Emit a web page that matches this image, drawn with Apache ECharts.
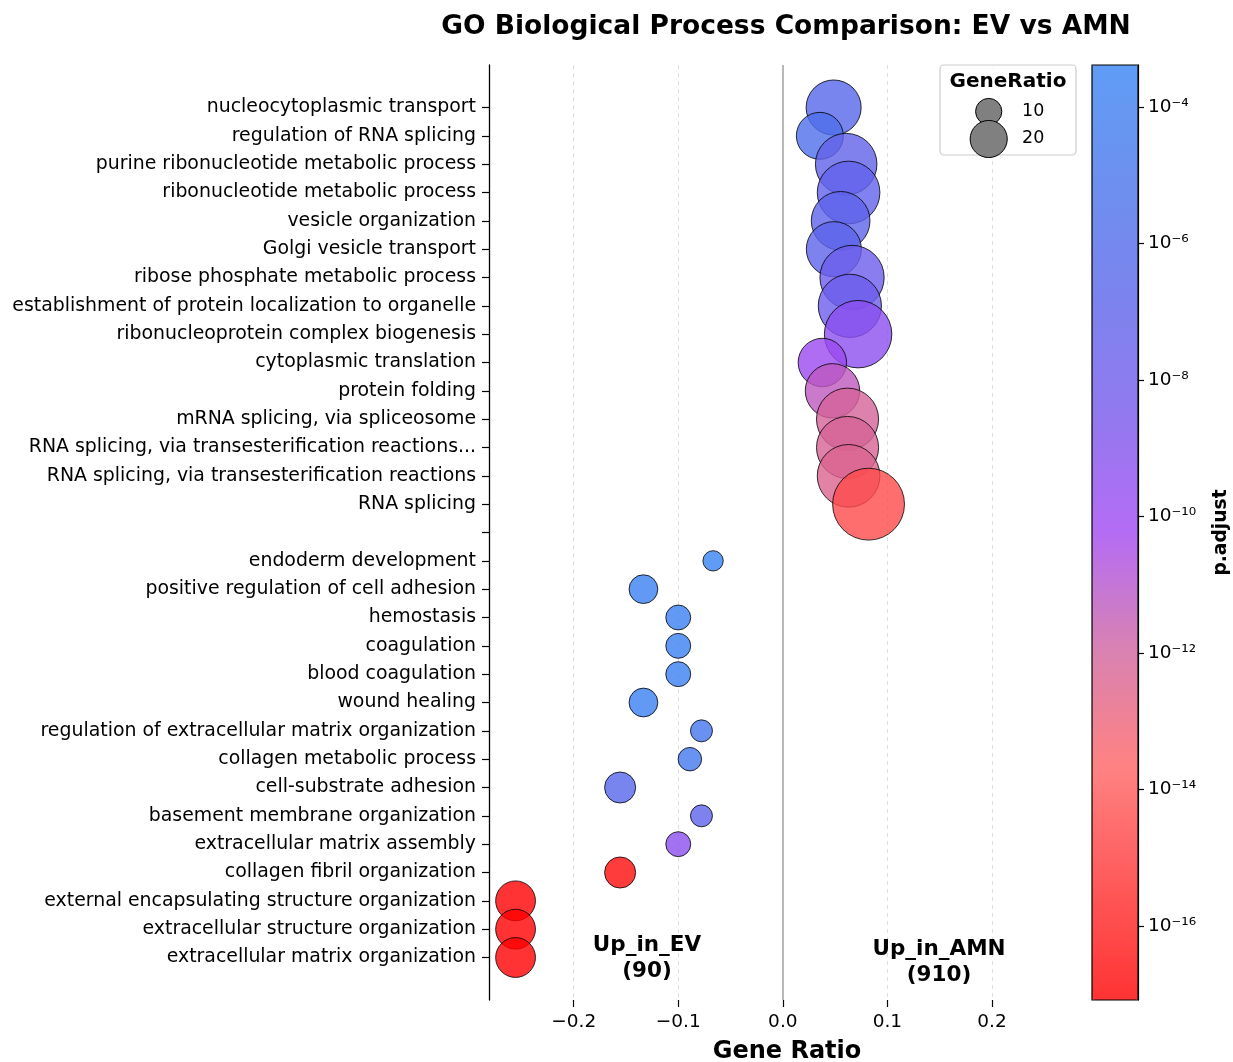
<!DOCTYPE html>
<html><head><meta charset="utf-8">
<script src="https://cdn.jsdelivr.net/npm/echarts@6/dist/echarts.min.js"></script>
<style>html,body{margin:0;padding:0;background:#fff}#c{width:1233px;height:1062px}</style>
</head><body><div id="c"></div>
<script>
// ---- data ----
const amnTerms = [
  'nucleocytoplasmic transport',
  'regulation of RNA splicing',
  'purine ribonucleotide metabolic process',
  'ribonucleotide metabolic process',
  'vesicle organization',
  'Golgi vesicle transport',
  'ribose phosphate metabolic process',
  'establishment of protein localization to organelle',
  'ribonucleoprotein complex biogenesis',
  'cytoplasmic translation',
  'protein folding',
  'mRNA splicing, via spliceosome',
  'RNA splicing, via transesterification reactions...',
  'RNA splicing, via transesterification reactions',
  'RNA splicing'
];
const amnRatio = [0.0486, 0.0354, 0.0606, 0.0629, 0.0553, 0.0488, 0.0662, 0.0641, 0.0720, 0.0378, 0.0475, 0.0619, 0.0619, 0.0629, 0.0820];
const amnCount = [44, 32, 55, 57, 50, 44, 60, 58, 66, 34, 43, 56, 56, 57, 75];
const amnPadj  = [3e-7, 2e-6, 6e-8, 5e-8, 1.1e-7, 1e-7, 1.3e-8, 1.6e-8, 4e-10, 1e-10, 5e-12, 7e-13, 6e-13, 4e-13, 3e-15];

const evTerms = [
  'endoderm development',
  'positive regulation of cell adhesion',
  'hemostasis',
  'coagulation',
  'blood coagulation',
  'wound healing',
  'regulation of extracellular matrix organization',
  'collagen metabolic process',
  'cell-substrate adhesion',
  'basement membrane organization',
  'extracellular matrix assembly',
  'collagen fibril organization',
  'external encapsulating structure organization',
  'extracellular structure organization',
  'extracellular matrix organization'
];
const evRatio = [-0.0667, -0.1333, -0.1000, -0.1000, -0.1000, -0.1333, -0.0778, -0.0889, -0.1556, -0.0778, -0.1000, -0.1556, -0.2556, -0.2556, -0.2556];
const evCount = [6, 12, 9, 9, 9, 12, 7, 8, 14, 7, 9, 14, 23, 23, 23];
const evPadj  = [4.1e-4, 2.2e-4, 1.8e-4, 1.8e-4, 1.8e-4, 2e-4, 1.8e-5, 3e-5, 3e-7, 1e-7, 4e-10, 2e-17, 8.3e-18, 8.3e-18, 8.3e-18];

const xTicks = [-0.2, -0.1, 0.0, 0.1, 0.2];
const cbTicks = [-16, -14, -12, -10, -8, -6, -4];
const sizeLegendValues = [10, 20];
const groupLabels = ['Up_in_EV\n(90)', 'Up_in_AMN\n(910)'];
const titleText = 'GO Biological Process Comparison: EV vs AMN';

// ---- styling ----
const FONT = 'DejaVu Sans';
const K = 8.3; // marker diameter per sqrt(count)
const sizeOf = c => K * Math.sqrt(c);
// colour ramp (min -> max p.adjust), underlying colours, drawn with alpha 0.8
const rampFill = ['#ff0000', '#ff3131', '#ff6363', '#ce639f', '#a147f1', '#7758ec', '#5a64ea', '#4973ec', '#3783f3'];
// same ramp as seen on white (alpha-blended) for the colour bar
const rampBar  = ['#ff3333', '#ff5a5a', '#ff8282', '#d882b2', '#b46cf4', '#9279f0', '#7b83ee', '#6d8ff0', '#5f9cf5'];

const categories = ['_padTop', ...amnTerms, '_gap', ...evTerms, '_padBottom'];
const data = [];
amnTerms.forEach((t, i) => data.push([amnRatio[i], 1 + i, amnCount[i], Math.log10(amnPadj[i]), t]));
evTerms.forEach((t, i) => data.push([evRatio[i], 17 + i, evCount[i], Math.log10(evPadj[i]), t]));
const logs = data.map(d => d[3]);
const cMin = Math.min(...logs), cMax = Math.max(...logs);

const sup = {'-': '\u207b', '0': '\u2070', '1': '\u00b9', '2': '\u00b2', '3': '\u00b3', '4': '\u2074', '5': '\u2075', '6': '\u2076', '7': '\u2077', '8': '\u2078', '9': '\u2079'};
const powLabel = v => '10' + String(Math.round(v)).split('').map(c => sup[c]).join('');
const fmtX = v => (v < -1e-9 ? '\u2212' + Math.abs(v).toFixed(1) : Math.abs(v).toFixed(1));

const GL = 489, GT = 65, GW = 596, GH = 935;
const CBX = 1092, CBW = 46;
const gridLineStyle = {color: '#dddddd', type: [4, 4], width: 1};

const chart = echarts.init(document.getElementById('c'), null, {renderer: 'canvas'});
const option = {
  backgroundColor: '#ffffff',
  animation: false,
  textStyle: {fontFamily: FONT},
  grid: [
    {left: GL, top: GT, width: GW, height: GH, outerBoundsMode: 'none', containLabel: false},
    {left: CBX, top: GT, width: CBW, height: GH, outerBoundsMode: 'none', containLabel: false}
  ],
  xAxis: [
    {
      type: 'value', gridIndex: 0, min: -0.281, max: 0.289,
      axisLine: {show: false, onZero: false},
      axisTick: {show: true, customValues: xTicks, length: 7, lineStyle: {color: '#000', width: 1.2}},
      axisLabel: {customValues: xTicks, formatter: fmtX, fontSize: 18.5, color: '#000', margin: 13, fontFamily: FONT},
      splitLine: {show: false},
      name: 'Gene Ratio', nameLocation: 'middle', nameGap: 40,
      nameTextStyle: {fontSize: 24, fontWeight: 'bold', color: '#000', fontFamily: FONT}
    },
    {type: 'value', gridIndex: 1, show: false, min: 0, max: 1}
  ],
  yAxis: [
    {
      type: 'category', gridIndex: 0, data: categories, inverse: true, boundaryGap: true,
      axisLine: {show: true, onZero: false, lineStyle: {color: '#000', width: 1.3}},
      axisTick: {show: true, alignWithLabel: true, length: 7, lineStyle: {color: '#000', width: 1.2},
        interval: (idx) => idx !== 0 && idx !== categories.length - 1},
      axisLabel: {interval: 0, fontSize: 18.9, color: '#000', margin: 13, fontFamily: FONT,
        formatter: v => (v.charAt(0) === '_' ? '' : v)},
      splitLine: {show: false}
    },
    {
      type: 'value', gridIndex: 1, min: cMin, max: cMax, position: 'right',
      axisLine: {show: true, onZero: false, lineStyle: {color: '#000', width: 1.2}},
      axisTick: {show: true, customValues: cbTicks, length: 6, lineStyle: {color: '#000', width: 1.2}},
      axisLabel: {customValues: cbTicks, formatter: powLabel, fontSize: 18.5, color: '#000', margin: 10, fontFamily: FONT},
      splitLine: {show: false},
      name: 'p.adjust', nameLocation: 'middle', nameRotate: 90, nameGap: 74,
      nameTextStyle: {fontSize: 18.7, fontWeight: 'bold', color: '#000', fontFamily: FONT}
    }
  ],
  visualMap: {
    type: 'continuous', seriesIndex: 1, dimension: 3, min: cMin, max: cMax,
    left: CBX, top: GT, itemWidth: CBW, itemHeight: GH, padding: 0,
    calculable: false, hoverLink: false, orient: 'vertical',
    inRange: {color: rampFill},
    controller: {inRange: {color: rampBar}}
  },
  series: [
    {
      type: 'scatter', xAxisIndex: 0, yAxisIndex: 0, data: [], z: 1, silent: true,
      markLine: {
        silent: true, symbol: 'none', label: {show: false}, animation: false, z: 1,
        data: [
          {xAxis: -0.2, lineStyle: gridLineStyle},
          {xAxis: -0.1, lineStyle: gridLineStyle},
          {xAxis: 0.1, lineStyle: gridLineStyle},
          {xAxis: 0.2, lineStyle: gridLineStyle},
          {xAxis: 0, lineStyle: {color: '#a6a6a6', type: 'solid', width: 1.6}}
        ]
      }
    },
    {
      type: 'scatter', xAxisIndex: 0, yAxisIndex: 0,
      data: data,
      symbol: 'circle',
      symbolSize: v => sizeOf(v[2]),
      itemStyle: {opacity: 0.8, borderColor: '#000', borderWidth: 1},
      emphasis: {disabled: true},
      z: 3
    }
  ],
  graphic: [
    {type: 'text', x: 786, y: 27, z: 10,
      style: {text: titleText, fontFamily: FONT, fontSize: 26.5, fontWeight: 'bold', fill: '#000', align: 'center', verticalAlign: 'middle'}},
    {type: 'text', x: 647, y: 958, z: 10,
      style: {text: groupLabels[0], fontFamily: FONT, fontSize: 21.5, fontWeight: 'bold', fill: '#000', align: 'center', verticalAlign: 'middle', lineHeight: 26}},
    {type: 'text', x: 939, y: 962, z: 10,
      style: {text: groupLabels[1], fontFamily: FONT, fontSize: 21.5, fontWeight: 'bold', fill: '#000', align: 'center', verticalAlign: 'middle', lineHeight: 26}},
    {type: 'rect', z: 20, shape: {x: CBX, y: GT, width: CBW, height: GH},
      style: {fill: null, stroke: '#000', lineWidth: 1.2}},
    {type: 'rect', z: 20, shape: {x: 940, y: 65, width: 136, height: 90, r: 4},
      style: {fill: 'rgba(255,255,255,0.85)', stroke: '#cccccc', lineWidth: 1.2}},
    {type: 'text', x: 1008, y: 82, z: 21,
      style: {text: 'GeneRatio', fontFamily: FONT, fontSize: 20, fontWeight: 'bold', fill: '#000', align: 'center', verticalAlign: 'middle'}},
    {type: 'circle', z: 21, shape: {cx: 988.7, cy: 111.5, r: sizeOf(sizeLegendValues[0]) / 2},
      style: {fill: '#808080', stroke: '#000', lineWidth: 1}},
    {type: 'circle', z: 22, shape: {cx: 988.7, cy: 139, r: sizeOf(sizeLegendValues[1]) / 2},
      style: {fill: '#808080', stroke: '#000', lineWidth: 1}},
    {type: 'text', x: 1022, y: 111, z: 23,
      style: {text: String(sizeLegendValues[0]), fontFamily: FONT, fontSize: 17.5, fill: '#000', align: 'left', verticalAlign: 'middle'}},
    {type: 'text', x: 1022, y: 138, z: 23,
      style: {text: String(sizeLegendValues[1]), fontFamily: FONT, fontSize: 17.5, fill: '#000', align: 'left', verticalAlign: 'middle'}}
  ]
};
chart.setOption(option);
</script>
</body></html>
